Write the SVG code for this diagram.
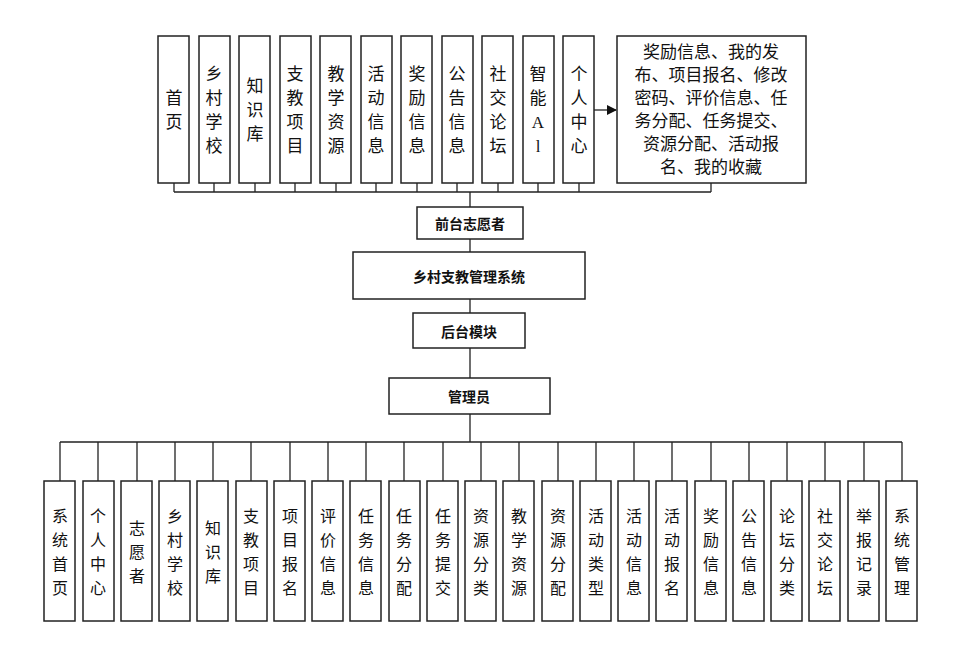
<svg xmlns="http://www.w3.org/2000/svg" width="962" height="653" viewBox="0 0 962 653">
<style>
rect{fill:#fff;stroke:#222;stroke-width:1.5}
text{font-family:"Liberation Serif","Noto Sans CJK SC",serif;fill:#111;text-anchor:middle;dominant-baseline:central}
.t{font-size:17px}
.b{font-size:16px}
.m{font-family:"Noto Sans CJK SC",sans-serif;font-size:14px;font-weight:bold}
#conn path{fill:none;stroke:#222;stroke-width:1.3}
</style>
<defs><marker id="ar" markerWidth="10" markerHeight="10" refX="9" refY="5" orient="auto" markerUnits="userSpaceOnUse"><path d="M0,0L10,5L0,10z" fill="#111"/></marker></defs>
<rect width="962" height="653" style="fill:#fff;stroke:none"/>
<g id="conn">
<path d="M174,183V192M214,183V192M255,183V192M295,183V192M336,183V192M376,183V192M417,183V192M457,183V192M498,183V192M538,183V192M579,183V192M711,183V192M174,192H711"/>
<path d="M470,192V207M470,239V252M470,299V313M470,348V378M470,414V442"/>
<path d="M594,110H616" marker-end="url(#ar)"/>
<path d="M60,442H902M60,442V481M98,442V481M137,442V481M175,442V481M213,442V481M251,442V481M290,442V481M328,442V481M366,442V481M404,442V481M443,442V481M481,442V481M519,442V481M558,442V481M596,442V481M634,442V481M672,442V481M711,442V481M749,442V481M787,442V481M825,442V481M864,442V481M902,442V481"/>
</g>
<g id="top">
<g id="n1"><rect x="158" y="36" width="31" height="147"/><text class="t"><tspan x="174" y="98">首</tspan><tspan x="174" y="122">页</tspan></text></g>
<g id="n2"><rect x="199" y="36" width="31" height="147"/><text class="t"><tspan x="214" y="74">乡</tspan><tspan x="214" y="98">村</tspan><tspan x="214" y="122">学</tspan><tspan x="214" y="146">校</tspan></text></g>
<g id="n3"><rect x="239" y="36" width="31" height="147"/><text class="t"><tspan x="255" y="86">知</tspan><tspan x="255" y="110">识</tspan><tspan x="255" y="134">库</tspan></text></g>
<g id="n4"><rect x="280" y="36" width="31" height="147"/><text class="t"><tspan x="295" y="74">支</tspan><tspan x="295" y="98">教</tspan><tspan x="295" y="122">项</tspan><tspan x="295" y="146">目</tspan></text></g>
<g id="n5"><rect x="320" y="36" width="31" height="147"/><text class="t"><tspan x="336" y="74">教</tspan><tspan x="336" y="98">学</tspan><tspan x="336" y="122">资</tspan><tspan x="336" y="146">源</tspan></text></g>
<g id="n6"><rect x="361" y="36" width="31" height="147"/><text class="t"><tspan x="376" y="74">活</tspan><tspan x="376" y="98">动</tspan><tspan x="376" y="122">信</tspan><tspan x="376" y="146">息</tspan></text></g>
<g id="n7"><rect x="401" y="36" width="31" height="147"/><text class="t"><tspan x="417" y="74">奖</tspan><tspan x="417" y="98">励</tspan><tspan x="417" y="122">信</tspan><tspan x="417" y="146">息</tspan></text></g>
<g id="n8"><rect x="442" y="36" width="31" height="147"/><text class="t"><tspan x="457" y="74">公</tspan><tspan x="457" y="98">告</tspan><tspan x="457" y="122">信</tspan><tspan x="457" y="146">息</tspan></text></g>
<g id="n9"><rect x="482" y="36" width="31" height="147"/><text class="t"><tspan x="498" y="74">社</tspan><tspan x="498" y="98">交</tspan><tspan x="498" y="122">论</tspan><tspan x="498" y="146">坛</tspan></text></g>
<g id="n10"><rect x="523" y="36" width="31" height="147"/><text class="t"><tspan x="538" y="74">智</tspan><tspan x="538" y="98">能</tspan><tspan x="538" y="122">A</tspan><tspan x="538" y="146">l</tspan></text></g>
<g id="n11"><rect x="563" y="36" width="31" height="147"/><text class="t"><tspan x="579" y="74">个</tspan><tspan x="579" y="98">人</tspan><tspan x="579" y="122">中</tspan><tspan x="579" y="146">心</tspan></text></g>
<g id="n12"><rect x="617" y="36" width="189" height="147"/><text class="t"><tspan x="711" y="52">奖励信息、我的发</tspan><tspan x="711" y="75">布、项目报名、修改</tspan><tspan x="711" y="98">密码、评价信息、任</tspan><tspan x="711" y="121">务分配、任务提交、</tspan><tspan x="711" y="144">资源分配、活动报</tspan><tspan x="711" y="167">名、我的收藏</tspan></text></g>
</g>
<g id="qt"><rect x="417" y="207" width="106" height="32"/><text class="m" x="470" y="223">前台志愿者</text></g>
<g id="sys"><rect x="353" y="252" width="232" height="47"/><text class="m" x="469" y="276">乡村支教管理系统</text></g>
<g id="ht"><rect x="413" y="313" width="112" height="35"/><text class="m" x="469" y="331">后台模块</text></g>
<g id="adm"><rect x="389" y="378" width="161" height="36"/><text class="m" x="469" y="396">管理员</text></g>
<g id="bottom">
<g id="b1"><rect x="44" y="481" width="31" height="140"/><text class="b"><tspan x="60" y="516">系</tspan><tspan x="60" y="540">统</tspan><tspan x="60" y="564">首</tspan><tspan x="60" y="588">页</tspan></text></g>
<g id="b2"><rect x="83" y="481" width="31" height="140"/><text class="b"><tspan x="98" y="516">个</tspan><tspan x="98" y="540">人</tspan><tspan x="98" y="564">中</tspan><tspan x="98" y="588">心</tspan></text></g>
<g id="b3"><rect x="121" y="481" width="31" height="140"/><text class="b"><tspan x="137" y="528">志</tspan><tspan x="137" y="552">愿</tspan><tspan x="137" y="576">者</tspan></text></g>
<g id="b4"><rect x="159" y="481" width="31" height="140"/><text class="b"><tspan x="175" y="516">乡</tspan><tspan x="175" y="540">村</tspan><tspan x="175" y="564">学</tspan><tspan x="175" y="588">校</tspan></text></g>
<g id="b5"><rect x="197" y="481" width="31" height="140"/><text class="b"><tspan x="213" y="528">知</tspan><tspan x="213" y="552">识</tspan><tspan x="213" y="576">库</tspan></text></g>
<g id="b6"><rect x="236" y="481" width="31" height="140"/><text class="b"><tspan x="251" y="516">支</tspan><tspan x="251" y="540">教</tspan><tspan x="251" y="564">项</tspan><tspan x="251" y="588">目</tspan></text></g>
<g id="b7"><rect x="274" y="481" width="31" height="140"/><text class="b"><tspan x="290" y="516">项</tspan><tspan x="290" y="540">目</tspan><tspan x="290" y="564">报</tspan><tspan x="290" y="588">名</tspan></text></g>
<g id="b8"><rect x="312" y="481" width="31" height="140"/><text class="b"><tspan x="328" y="516">评</tspan><tspan x="328" y="540">价</tspan><tspan x="328" y="564">信</tspan><tspan x="328" y="588">息</tspan></text></g>
<g id="b9"><rect x="350" y="481" width="31" height="140"/><text class="b"><tspan x="366" y="516">任</tspan><tspan x="366" y="540">务</tspan><tspan x="366" y="564">信</tspan><tspan x="366" y="588">息</tspan></text></g>
<g id="b10"><rect x="389" y="481" width="31" height="140"/><text class="b"><tspan x="404" y="516">任</tspan><tspan x="404" y="540">务</tspan><tspan x="404" y="564">分</tspan><tspan x="404" y="588">配</tspan></text></g>
<g id="b11"><rect x="427" y="481" width="31" height="140"/><text class="b"><tspan x="443" y="516">任</tspan><tspan x="443" y="540">务</tspan><tspan x="443" y="564">提</tspan><tspan x="443" y="588">交</tspan></text></g>
<g id="b12"><rect x="465" y="481" width="31" height="140"/><text class="b"><tspan x="481" y="516">资</tspan><tspan x="481" y="540">源</tspan><tspan x="481" y="564">分</tspan><tspan x="481" y="588">类</tspan></text></g>
<g id="b13"><rect x="503" y="481" width="31" height="140"/><text class="b"><tspan x="519" y="516">教</tspan><tspan x="519" y="540">学</tspan><tspan x="519" y="564">资</tspan><tspan x="519" y="588">源</tspan></text></g>
<g id="b14"><rect x="542" y="481" width="31" height="140"/><text class="b"><tspan x="558" y="516">资</tspan><tspan x="558" y="540">源</tspan><tspan x="558" y="564">分</tspan><tspan x="558" y="588">配</tspan></text></g>
<g id="b15"><rect x="580" y="481" width="31" height="140"/><text class="b"><tspan x="596" y="516">活</tspan><tspan x="596" y="540">动</tspan><tspan x="596" y="564">类</tspan><tspan x="596" y="588">型</tspan></text></g>
<g id="b16"><rect x="618" y="481" width="31" height="140"/><text class="b"><tspan x="634" y="516">活</tspan><tspan x="634" y="540">动</tspan><tspan x="634" y="564">信</tspan><tspan x="634" y="588">息</tspan></text></g>
<g id="b17"><rect x="656" y="481" width="31" height="140"/><text class="b"><tspan x="672" y="516">活</tspan><tspan x="672" y="540">动</tspan><tspan x="672" y="564">报</tspan><tspan x="672" y="588">名</tspan></text></g>
<g id="b18"><rect x="695" y="481" width="31" height="140"/><text class="b"><tspan x="711" y="516">奖</tspan><tspan x="711" y="540">励</tspan><tspan x="711" y="564">信</tspan><tspan x="711" y="588">息</tspan></text></g>
<g id="b19"><rect x="733" y="481" width="31" height="140"/><text class="b"><tspan x="749" y="516">公</tspan><tspan x="749" y="540">告</tspan><tspan x="749" y="564">信</tspan><tspan x="749" y="588">息</tspan></text></g>
<g id="b20"><rect x="771" y="481" width="31" height="140"/><text class="b"><tspan x="787" y="516">论</tspan><tspan x="787" y="540">坛</tspan><tspan x="787" y="564">分</tspan><tspan x="787" y="588">类</tspan></text></g>
<g id="b21"><rect x="809" y="481" width="31" height="140"/><text class="b"><tspan x="825" y="516">社</tspan><tspan x="825" y="540">交</tspan><tspan x="825" y="564">论</tspan><tspan x="825" y="588">坛</tspan></text></g>
<g id="b22"><rect x="848" y="481" width="31" height="140"/><text class="b"><tspan x="864" y="516">举</tspan><tspan x="864" y="540">报</tspan><tspan x="864" y="564">记</tspan><tspan x="864" y="588">录</tspan></text></g>
<g id="b23"><rect x="886" y="481" width="31" height="140"/><text class="b"><tspan x="902" y="516">系</tspan><tspan x="902" y="540">统</tspan><tspan x="902" y="564">管</tspan><tspan x="902" y="588">理</tspan></text></g>
</g>
</svg>
